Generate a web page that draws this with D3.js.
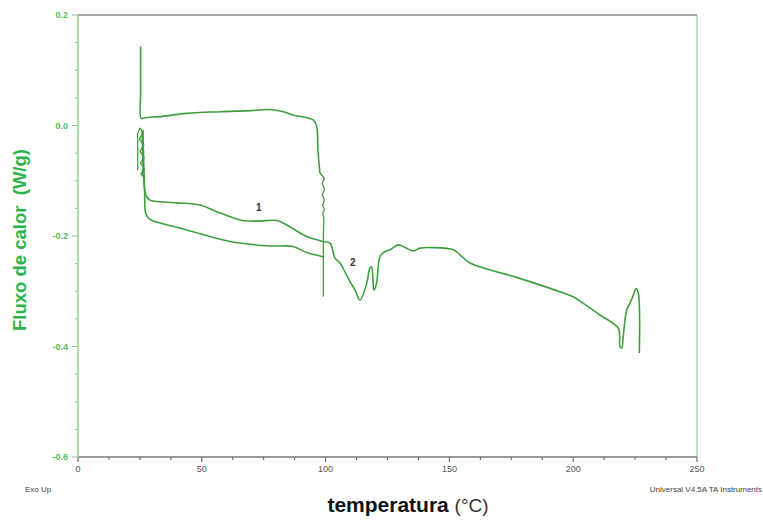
<!DOCTYPE html>
<html>
  <head>
    <style>
      body { margin: 0; background: #fff; }
      text { font-family: "Liberation Sans", Arial, sans-serif; }
      .curve { fill: none; stroke: #3f9f3f; stroke-width: 1.6px; stroke-linejoin: round; }
      .noise { fill: none; stroke: #3f9f3f; stroke-width: 1.3px; stroke-linejoin: round; }
    </style>
  </head>
  <body>
    <script src="https://d3js.org/d3.v7.min.js"></script>
    <script>
      const xTicks = [0, 50, 100, 150, 200, 250],
          yTicks = [0.2, 0.0, -0.2, -0.4, -0.6];

      // isothermal spike + cooling loop (upper)
      const loopT = [25.3, 25.3, 25.5, 27.0, 35.0, 43.9, 57.4, 70.0, 77.5, 83.0, 87.0, 95.0, 96.4, 96.9, 97.7],
          loopV = [0.143, 0.06, 0.013, 0.014, 0.017, 0.022, 0.025, 0.027, 0.029, 0.025, 0.019, 0.010, -0.002, -0.044, -0.086];

      // noisy stretch at ~100 C and drop
      const dropT = [97.7, 99.5, 98.6, 99.6, 98.7, 99.5, 98.8, 99.6, 98.9, 99.3, 99.1, 99.1],
          dropV = [-0.086, -0.095, -0.105, -0.115, -0.125, -0.135, -0.145, -0.152, -0.158, -0.17, -0.2, -0.31];

      // noisy start band near 25 C
      const startT = [24.1, 24.1, 25.0, 26.4, 24.8, 26.6, 25.0, 26.7, 25.2, 26.8, 25.4, 26.9, 25.9, 26.8],
          startV = [-0.081, -0.015, -0.005, -0.012, -0.025, -0.035, -0.047, -0.058, -0.068, -0.078, -0.088, -0.095, -0.08, -0.1];

      // curve 1
      const c1T = [25.9, 26.6, 27.4, 29.1, 31.0, 40.0, 49.3, 56.0, 66.6, 73.0, 80.3, 84.3, 92.4, 99.0, 101.8, 103.8, 105.8, 109.2, 111.9, 113.9, 116.6, 117.9, 118.6, 119.5, 120.6, 122.0, 124.0, 126.0, 129.4, 132.1, 135.4, 138.1, 143.5, 151.6, 154.3, 158.3, 176.5, 194.7, 200.0, 204.1, 210.8, 218.2, 218.9, 219.6, 220.2, 221.6, 222.9, 224.3, 225.4, 226.3, 226.7],
          c1V = [-0.008, -0.099, -0.126, -0.135, -0.137, -0.140, -0.144, -0.156, -0.172, -0.173, -0.172, -0.180, -0.201, -0.210, -0.213, -0.240, -0.249, -0.277, -0.298, -0.316, -0.286, -0.258, -0.256, -0.298, -0.285, -0.237, -0.228, -0.225, -0.216, -0.221, -0.227, -0.222, -0.221, -0.225, -0.234, -0.249, -0.274, -0.301, -0.310, -0.322, -0.343, -0.367, -0.400, -0.403, -0.382, -0.334, -0.322, -0.307, -0.295, -0.304, -0.412];

      // lower curve
      const c2T = [26.2, 26.9, 27.3, 28.5, 29.9, 43.9, 61.4, 77.5, 86.8, 92.4, 98.4, 99.0],
          c2V = [-0.008, -0.12, -0.158, -0.168, -0.172, -0.189, -0.210, -0.218, -0.219, -0.230, -0.237, -0.238];

      const labels = [{t: "1", x: 73, v: -0.155}, {t: "2", x: 111, v: -0.255}];

      const margin = {left: 78, top: 15, right: 66, bottom: 63},
          width = 763 - margin.left - margin.right,
          height = 520 - margin.top - margin.bottom;

      const svg = d3.select("body").append("svg")
          .attr("width", 763)
          .attr("height", 520);

      const g = svg.append("g")
          .attr("transform", `translate(${margin.left},${margin.top})`);

      const x = d3.scaleLinear().domain([0, 250]).range([0, width]);
      const y = d3.scaleLinear().domain([-0.6, 0.2]).range([height, 0]);

      // frame
      g.append("line").attr("x1", 0).attr("x2", width).attr("y1", 0).attr("y2", 0)
          .attr("stroke", "#8a8a8a").attr("stroke-width", 1.5);
      g.append("line").attr("x1", width).attr("x2", width).attr("y1", 0).attr("y2", height)
          .attr("stroke", "#9ad39a").attr("stroke-width", 1.2);

      // x axis
      const xMinor = d3.range(0, 250.1, 12.5);
      g.append("g").selectAll("line").data(xMinor).join("line")
          .attr("x1", d => x(d)).attr("x2", d => x(d))
          .attr("y1", height).attr("y2", d => height + (d % 50 === 0 ? 5 : 3))
          .attr("stroke", "#555");
      g.append("line").attr("x1", 0).attr("x2", width).attr("y1", height).attr("y2", height)
          .attr("stroke", "#777").attr("stroke-width", 1.3);
      g.append("g").selectAll("text").data(xTicks).join("text")
          .attr("x", d => x(d)).attr("y", height + 15)
          .attr("text-anchor", "middle")
          .attr("font-size", 9).attr("fill", "#555")
          .text(d => d);

      // y axis
      const yMinor = d3.range(-0.6, 0.2001, 0.05);
      g.append("g").selectAll("line").data(yMinor).join("line")
          .attr("x1", d => Math.abs(Math.round(d * 100)) % 20 === 0 ? -6 : -3).attr("x2", 0)
          .attr("y1", d => y(d)).attr("y2", d => y(d))
          .attr("stroke", "#7cc47c");
      g.append("line").attr("x1", 0).attr("x2", 0).attr("y1", 0).attr("y2", height)
          .attr("stroke", "#8fcf8f").attr("stroke-width", 1.5);
      g.append("g").selectAll("text").data(yTicks).join("text")
          .attr("x", -10).attr("y", d => y(d) + 3)
          .attr("text-anchor", "end")
          .attr("font-size", 9).attr("font-weight", "bold").attr("fill", "#5cb85c")
          .text(d => d3.format(".1f")(d).replace("−", "-"));

      // curves
      const smooth = d3.line().x(d => x(d[0])).y(d => y(d[1])).curve(d3.curveCatmullRom.alpha(0.5));
      const straight = d3.line().x(d => x(d[0])).y(d => y(d[1]));
      [[loopT, loopV], [c1T, c1V], [c2T, c2V]].forEach(([t, v]) => {
        g.append("path").attr("class", "curve").attr("d", smooth(d3.zip(t, v)));
      });
      [[startT, startV], [dropT, dropV]].forEach(([t, v]) => {
        g.append("path").attr("class", "noise").attr("d", straight(d3.zip(t, v)));
      });

      // curve labels
      g.selectAll(".lbl").data(labels).join("text")
          .attr("class", "lbl")
          .attr("x", d => x(d.x)).attr("y", d => y(d.v))
          .attr("text-anchor", "middle")
          .attr("font-size", 10).attr("font-weight", "bold").attr("fill", "#333")
          .text(d => d.t);

      // notes
      svg.append("text").attr("x", 25).attr("y", 492)
          .attr("font-size", 8).attr("fill", "#444").text("Exo Up");
      svg.append("text").attr("x", 762).attr("y", 492).attr("text-anchor", "end")
          .attr("font-size", 8).attr("fill", "#444").text("Universal V4.5A TA Instruments");

      // axis titles
      const xt = svg.append("text").attr("x", 408).attr("y", 512)
          .attr("text-anchor", "middle").attr("fill", "#111");
      xt.append("tspan").attr("font-size", 21).attr("font-weight", "bold").text("temperatura ");
      xt.append("tspan").attr("font-size", 19).attr("fill", "#333").text("(°C)");

      svg.append("text")
          .attr("transform", "translate(26,240) rotate(-90)")
          .attr("text-anchor", "middle")
          .attr("font-size", 18.5).attr("font-weight", "bold").attr("fill", "#2db34a")
          .attr("xml:space", "preserve")
          .text("Fluxo de calor  (W/g)");
    </script>
  </body>
</html>
